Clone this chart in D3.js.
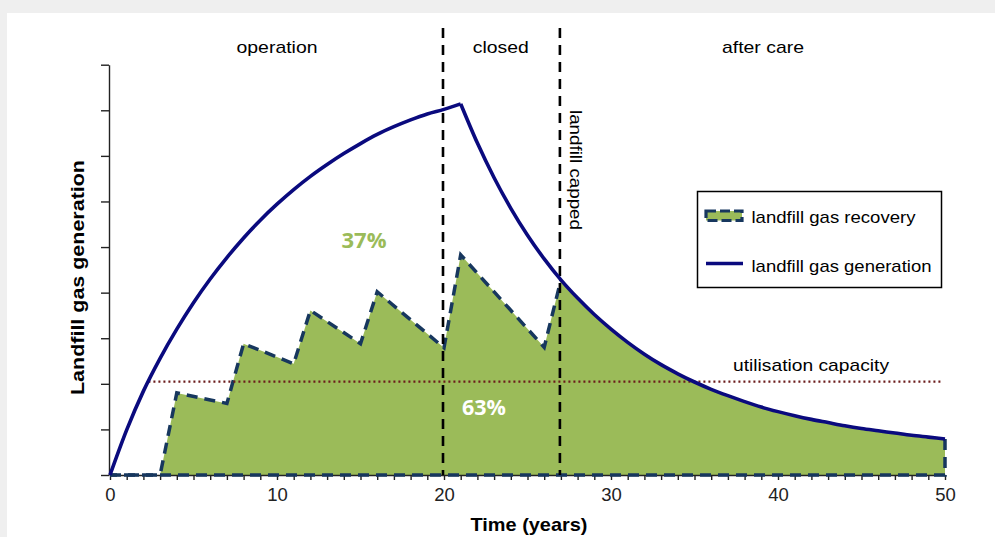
<!DOCTYPE html>
<html><head><meta charset="utf-8">
<script src="https://cdn.jsdelivr.net/npm/d3@7"></script>
<style>html,body{margin:0;padding:0;background:#fff;} svg{display:block;}</style>
</head><body><svg id="c" width="995" height="537"></svg>
<script>
// ---------- data ----------
const years = [0,1,2,3,4,5,6,7,8,9,10,11,12,13,14,15,16,17,18,19,20,21,22,23,24,25,26,27,28,29,30,31,32,33,34,35,36,37,38,39,40,41,42,43,44,45,46,47,48,49,50];
const generation = [0,0.99,1.84,2.56,3.2,3.78,4.3,4.77,5.2,5.59,5.94,6.26,6.55,6.81,7.05,7.27,7.47,7.64,7.79,7.92,8.02,8.14,7.28,6.52,5.85,5.26,4.74,4.28,3.88,3.52,3.2,2.91,2.65,2.42,2.22,2.04,1.88,1.74,1.61,1.49,1.39,1.3,1.22,1.15,1.08,1.02,0.97,0.92,0.87,0.83,0.79];
const recoveryYears = [0,3,4,7,8,11,12,15,16,20,21,26,27];
const recoveryValues = [0,0,1.80,1.57,2.88,2.44,3.61,2.88,4.02,2.79,4.83,2.80,4.28];
const capacityYears = [2.3, 49.9];
const capacityValue = 2.05;
const phaseBounds = [20, 27];
const phaseLabels = ["operation", "closed", "after care"];
const phaseLabelYears = [10, 23.4, 39.1];
const xTickLabels = [0, 10, 20, 30, 40, 50];
const yTicks = [0,1,2,3,4,5,6,7,8,9];
const legendLabels = ["landfill gas recovery", "landfill gas generation"];
const shareLabels = ["37%", "63%"];

// ---------- drawing ----------
const svg = d3.select("#c");
const W = 995, H = 537;
const GREEN = "#9BBB59", DASHBLUE = "#17375E", NAVY = "#0A0A7E";
const FONT = "'Liberation Sans', Arial, sans-serif";

svg.append("rect").attr("width", W).attr("height", H).attr("fill", "#efefef");
svg.append("rect").attr("x", 7).attr("y", 13).attr("width", W - 7).attr("height", H - 13).attr("fill", "#fff");

const x = d3.scaleLinear().domain([0, 50]).range([110, 945]);
const y = d3.scaleLinear().domain([0, 9]).range([475, 64.7]);

const sawPts = recoveryYears.map((t, i) => [t, recoveryValues[i]]);
const tailPts = years.map((t, i) => [t, generation[i]]).filter(d => d[0] >= 27);

// green fills
const areaLin = d3.area().x(d => x(d[0])).y0(y(0)).y1(d => y(d[1]));
const areaMono = d3.area().curve(d3.curveMonotoneX).x(d => x(d[0])).y0(y(0)).y1(d => y(d[1]));
svg.append("path").attr("d", areaLin(sawPts.concat([[27.3, tailPts[0][1] - 0.1]]))).attr("fill", GREEN);
svg.append("path").attr("d", areaMono(tailPts)).attr("fill", GREEN);

// axes
const yAxis = svg.append("g").attr("transform", "translate(109,0)")
  .call(d3.axisLeft(y).tickValues(yTicks).tickSize(8).tickSizeOuter(0).tickFormat(""));
const xAxis = svg.append("g").attr("transform", `translate(0,${y(0)})`)
  .call(d3.axisBottom(x).tickValues(years).tickSize(5).tickPadding(8).tickSizeOuter(0)
    .tickFormat(d => xTickLabels.includes(d) ? d : ""));
[yAxis, xAxis].forEach(g => {
  g.selectAll("path,line").attr("stroke", "#222").attr("stroke-width", 1.4);
});
xAxis.selectAll("text").attr("font-family", FONT).attr("font-size", 18.5).attr("fill", "#222");

// recovery dashed outline
const line = d3.line().x(d => x(d[0])).y(d => y(d[1]));
svg.append("path").attr("d", line(sawPts)).attr("fill", "none")
  .attr("stroke", DASHBLUE).attr("stroke-width", 3.5).attr("stroke-dasharray", "11,7");
svg.append("path").attr("d", line([[50, generation[50]], [50, 0], [0, 0]])).attr("fill", "none")
  .attr("stroke", DASHBLUE).attr("stroke-width", 3.5).attr("stroke-dasharray", "11,7");

// utilisation capacity (dotted)
svg.append("path").attr("d", line(capacityYears.map(t => [t, capacityValue]))).attr("fill", "none")
  .attr("stroke", "#6B1B1B").attr("stroke-width", 2.2).attr("stroke-dasharray", "2,3");

// phase boundaries
phaseBounds.forEach(t => {
  svg.append("line").attr("x1", x(t) - 1).attr("x2", x(t) - 1).attr("y1", 28).attr("y2", y(0))
    .attr("stroke", "#000").attr("stroke-width", 2.6).attr("stroke-dasharray", "10,7");
});

// generation curve
const genPts = years.map((t, i) => [t, generation[i]]);
const mono = d3.line().curve(d3.curveMonotoneX).x(d => x(d[0])).y(d => y(d[1]));
[genPts.filter(d => d[0] <= 21), genPts.filter(d => d[0] >= 21)].forEach(seg => {
  svg.append("path").attr("d", mono(seg)).attr("fill", "none")
    .attr("stroke", NAVY).attr("stroke-width", 3.6).attr("stroke-linejoin", "miter");
});

// texts
function txt(str, px, py, opts) {
  const t = svg.append("text").attr("x", px).attr("y", py).text(str)
    .attr("font-family", opts.family || FONT).attr("font-size", opts.size || 17)
    .attr("font-weight", opts.weight || "normal").attr("fill", opts.fill || "#000")
    .attr("text-anchor", opts.anchor || "middle");
  if (opts.len) t.attr("textLength", opts.len).attr("lengthAdjust", "spacingAndGlyphs");
  if (opts.rotate) t.attr("transform", `rotate(${opts.rotate},${px},${py})`);
  return t;
}
const phaseLens = [81, 56, 82];
phaseLabels.forEach((s, i) => txt(s, x(phaseLabelYears[i]), 53, { size: 17, len: phaseLens[i] }));

txt("landfill capped", 570, 110, { size: 16.5, anchor: "start", rotate: 90, len: 120 });
txt("utilisation capacity", 733, 371, { size: 17, anchor: "start", len: 156 });

txt(shareLabels[0], 364, 247.5, { family: "'Open Sans', sans-serif", weight: "bold", size: 21, fill: GREEN, len: 45 });
txt(shareLabels[1], 484, 415, { family: "'Open Sans', sans-serif", weight: "bold", size: 21, fill: "#fff", len: 44 });

txt("Time (years)", 529, 531, { size: 18.5, weight: "bold", len: 117 });
txt("Landfill gas generation", 83.5, 277.5, { size: 19, weight: "bold", rotate: -90, len: 235 });

// legend
const lg = svg.append("g");
lg.append("rect").attr("x", 697.5).attr("y", 191.5).attr("width", 244).attr("height", 96)
  .attr("fill", "#fff").attr("stroke", "#000").attr("stroke-width", 1.5);
lg.append("rect").attr("x", 706).attr("y", 211).attr("width", 36).attr("height", 9.5)
  .attr("fill", GREEN).attr("stroke", DASHBLUE).attr("stroke-width", 3.2).attr("stroke-dasharray", "10,4");
lg.append("line").attr("x1", 706).attr("x2", 743).attr("y1", 263.5).attr("y2", 263.5)
  .attr("stroke", NAVY).attr("stroke-width", 3.4);
txt(legendLabels[0], 751.5, 222.5, { size: 17, anchor: "start", len: 164 });
txt(legendLabels[1], 751.5, 271.5, { size: 17, anchor: "start", len: 180 });
</script>
</body></html>
